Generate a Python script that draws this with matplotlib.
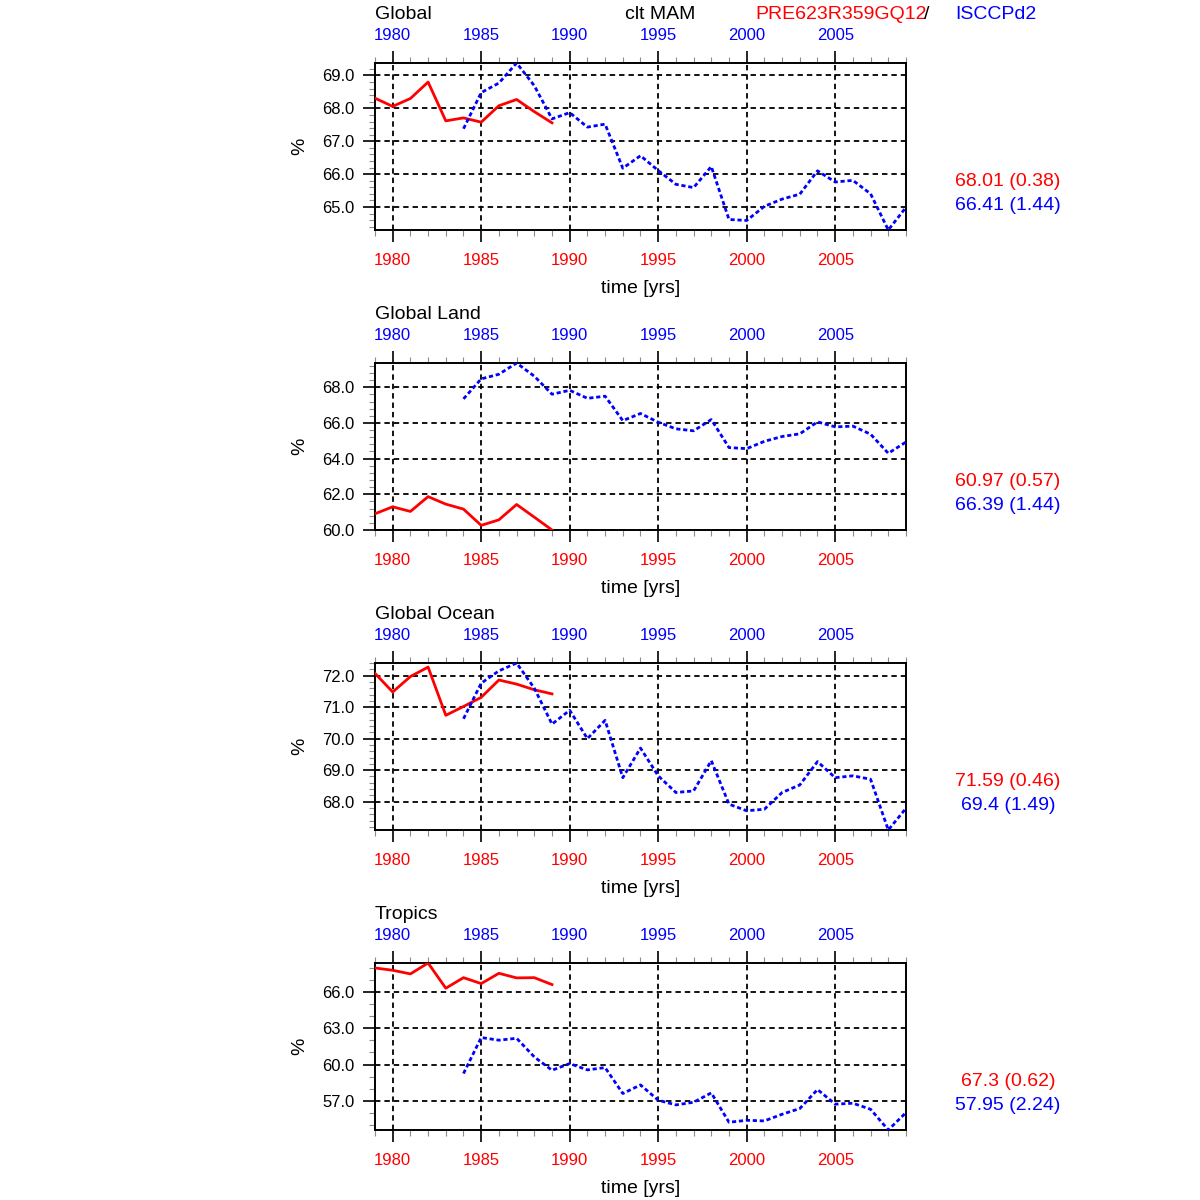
import matplotlib
matplotlib.use('Agg')
import matplotlib.pyplot as plt
from matplotlib.ticker import MultipleLocator, FormatStrFormatter, NullLocator

plt.rcParams['font.family'] = ['Liberation Sans', 'DejaVu Sans']

# model (red) and ISCCP (blue) years
red_years = list(range(1979, 1990))
blue_years = list(range(1984, 2010))

glob_red = [68.31, 68.06, 68.30, 68.80, 67.62, 67.71, 67.58, 68.08, 68.27, 67.90, 67.56]
glob_blue = [67.38, 68.48, 68.77, 69.38, 68.69, 67.68, 67.87, 67.43, 67.52, 66.18, 66.56, 66.11, 65.69,
             65.59, 66.23, 64.62, 64.59, 65.02, 65.24, 65.39, 66.10, 65.76, 65.81, 65.40, 64.30, 64.99]

land_red = [60.91, 61.30, 61.04, 61.87, 61.45, 61.17, 60.26, 60.57, 61.43, 60.72, 60.00]
land_blue = [67.35, 68.47, 68.73, 69.36, 68.62, 67.61, 67.83, 67.38, 67.50, 66.13, 66.53, 66.04, 65.67,
             65.56, 66.19, 64.62, 64.56, 64.97, 65.24, 65.39, 66.06, 65.78, 65.82, 65.37, 64.30, 64.93]

ocean_red = [72.07, 71.48, 71.97, 72.27, 70.74, 71.02, 71.31, 71.86, 71.73, 71.55, 71.42]
ocean_blue = [70.63, 71.76, 72.15, 72.40, 71.60, 70.46, 70.90, 70.00, 70.58, 68.76, 69.70, 68.82, 68.29,
              68.34, 69.30, 67.92, 67.71, 67.76, 68.29, 68.53, 69.27, 68.76, 68.82, 68.71, 67.10, 67.79]

trop_red = [67.97, 67.78, 67.48, 68.38, 66.30, 67.17, 66.68, 67.53, 67.15, 67.17, 66.60]
trop_blue = [59.26, 62.23, 62.01, 62.17, 60.63, 59.53, 60.08, 59.56, 59.75, 57.61, 58.32, 57.06, 56.67,
             56.89, 57.66, 55.24, 55.40, 55.35, 55.90, 56.37, 57.94, 56.73, 56.81, 56.31, 54.60, 56.04]

titles = ['Global', 'Global Land', 'Global Ocean', 'Tropics']
reds = [glob_red, land_red, ocean_red, trop_red]
blues = [glob_blue, land_blue, ocean_blue, trop_blue]
y_major = [1.0, 2.0, 1.0, 3.0]
y_minor = [0.2, 0.4, 0.2, 1.0]
red_stats = ['68.01 (0.38)', '60.97 (0.57)', '71.59 (0.46)', '67.3 (0.62)']
blue_stats = ['66.41 (1.44)', '66.39 (1.44)', '69.4 (1.49)', '57.95 (2.24)']
year_ticks = [1980, 1985, 1990, 1995, 2000, 2005]

W = H = 1200.0
fig = plt.figure(figsize=(12, 12), dpi=100)


def px(x, y):
    return x / W, 1 - y / H


def ftext(x, y, s, **kw):
    fx, fy = px(x, y)
    return fig.text(fx, fy, s, **kw)


# header
ftext(660, 19, 'clt MAM', ha='center', va='baseline', fontsize=14)
rt = ftext(755, 19, 'PRE623R359GQ12', ha='left', va='baseline', fontsize=14, color='red')
fig.canvas.draw()
bb = rt.get_window_extent()
fig.text(bb.x1 / W - 0.002, 1 - 19 / H, '/', ha='left', va='baseline', fontsize=14, color='black')
ftext(955, 19, 'ISCCPd2', ha='left', va='baseline', fontsize=14, color='blue')

for i in range(4):
    off = 300 * i
    ax = fig.add_axes([375 / W, (H - 230 - off) / H, 531 / W, 167 / H])
    red = reds[i]
    blue = blues[i]
    ax.plot(red_years, red, color='red', lw=2.0, zorder=3)
    ax.plot(blue_years, blue, color='blue', lw=2.0, ls=(0, (1.5, 1.0)), zorder=3)
    ax.set_xlim(1979, 2009)
    ax.set_ylim(min(min(red), min(blue)), max(max(red), max(blue)))

    ax.xaxis.set_major_locator(MultipleLocator(5))
    ax.xaxis.set_minor_locator(MultipleLocator(1))
    ax.yaxis.set_major_locator(MultipleLocator(y_major[i]))
    ax.yaxis.set_minor_locator(MultipleLocator(y_minor[i]))
    ax.yaxis.set_major_formatter(FormatStrFormatter('%.1f'))

    ax.grid(True, which='major', color='black', ls=(0, (3, 2.2)), lw=1.3)
    ax.tick_params(axis='x', which='both', top=True, bottom=True, direction='out',
                   labeltop=False, labelbottom=True)
    ax.tick_params(axis='x', which='major', length=8.6, width=1.2, pad=8,
                   labelsize=12, labelcolor='red')
    ax.tick_params(axis='x', which='minor', length=4.3, width=0.8, color='0.55')
    ax.tick_params(axis='y', which='both', left=True, right=False, direction='out')
    ax.tick_params(axis='y', which='major', length=8.6, width=1.2, pad=6, labelsize=12)
    ax.tick_params(axis='y', which='minor', length=4.3, width=0.8, color='0.55')
    for s in ax.spines.values():
        s.set_linewidth(1.4)

    sec = ax.secondary_xaxis('top')
    sec.set_xticks(year_ticks)
    sec.xaxis.set_minor_locator(NullLocator())
    sec.tick_params(axis='x', length=0, pad=14.4, labelsize=12, labelcolor='blue')
    sec.spines['top'].set_visible(False)

    ftext(375, 19 + off, titles[i], ha='left', va='baseline', fontsize=14)
    ftext(640.5, 293 + off, 'time [yrs]', ha='center', va='baseline', fontsize=14)
    ftext(300, 146.5 + off, '%', ha='center', va='center', rotation=90, fontsize=14)
    ftext(1008, 186 + off, red_stats[i], ha='center', va='baseline', fontsize=14, color='red')
    ftext(1008, 210 + off, blue_stats[i], ha='center', va='baseline', fontsize=14, color='blue')

fig.savefig('out.png', dpi=100)
